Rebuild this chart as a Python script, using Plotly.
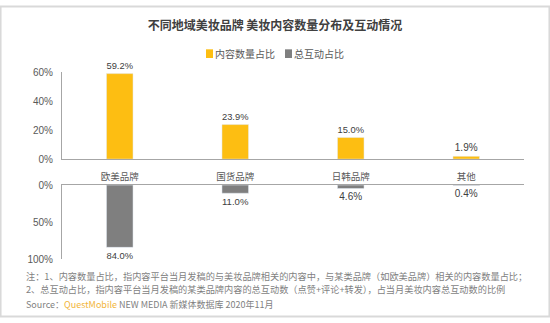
import plotly.graph_objects as go

categories = ["欧美品牌", "国货品牌", "日韩品牌", "其他"]
content_share = [59.2, 23.9, 15.0, 1.9]
interaction_share = [84.0, 11.0, 4.6, 0.4]
series_names = ["内容数量占比", "总互动占比"]
top_ticks = [0, 20, 40, 60]
bottom_ticks = [0, 50, 100]

W, H = 550, 323
def py(p):
    return 1 - p / H
def px(p):
    return p / W

FONT = "Liberation Sans, Arial, Noto Sans CJK SC, sans-serif"
CJK = "Noto Sans CJK SC, Liberation Sans, sans-serif"
YEL = "#FDBE12"
GRY = "#7F7F7F"
AX = "#A6A6A6"

fig = go.Figure()
fig.add_trace(go.Bar(
    x=categories, y=content_share, name=series_names[0],
    marker=dict(color=YEL), width=0.23,
    text=[f"{v:.1f}%" for v in content_share], textposition="outside",
    textfont=dict(size=10, color="#404040", family=FONT),
    cliponaxis=False, xaxis="x", yaxis="y", showlegend=False,
))
# lower panel drawn downward: values plotted as negatives, labelled positive
fig.add_trace(go.Bar(
    x=categories, y=[-v for v in interaction_share], name=series_names[1],
    marker=dict(color=GRY), width=0.23,
    text=[f"{v:.1f}%" for v in interaction_share], textposition="outside",
    textfont=dict(size=10, color="#404040", family=FONT),
    cliponaxis=False, xaxis="x2", yaxis="y2", showlegend=False,
))

xd = [px(62), px(524)]
fig.update_layout(
    width=W, height=H,
    margin=dict(l=0, r=0, t=0, b=0),
    paper_bgcolor="white", plot_bgcolor="rgba(0,0,0,0)",
    showlegend=False,
    title=dict(text="<b>不同地域美妆品牌 美妆内容数量分布及互动情况</b>",
               x=px(275), xanchor="center", y=py(26), yanchor="middle",
               font=dict(size=12, color="#404040", family=CJK)),
    xaxis=dict(domain=xd, anchor="y", showline=True, linecolor=AX, linewidth=1,
               showgrid=False, ticks="", ticklabelstandoff=9,
               tickfont=dict(size=9.5, color="#595959", family=CJK), fixedrange=True),
    yaxis=dict(domain=[py(159), py(69)], range=[0, 60], autorange=False, anchor="x",
               tickvals=top_ticks, ticktext=[f"{t}%" for t in top_ticks],
               showline=True, linecolor=AX, linewidth=1, showgrid=False, zeroline=False,
               ticks="", ticklabelstandoff=6,
               tickfont=dict(size=10, color="#595959", family=FONT)),
    xaxis2=dict(domain=xd, anchor="y2", side="top", showline=True, linecolor=AX, linewidth=1,
                showgrid=False, showticklabels=False, ticks=""),
    yaxis2=dict(domain=[py(263), py(186)], range=[-100, 0], autorange=False, anchor="x2",
                tickvals=[-t for t in bottom_ticks], ticktext=[f"{t}%" for t in bottom_ticks],
                showline=True, linecolor=AX, linewidth=1, showgrid=False, zeroline=False,
                ticks="", ticklabelstandoff=6,
                tickfont=dict(size=10, color="#595959", family=FONT)),
)

# compact legend
leg = [(209.5, YEL, series_names[0]), (288.5, GRY, series_names[1])]
for xc, col, name in leg:
    fig.add_shape(type="rect", xref="paper", yref="paper",
                  x0=px(xc - 3.5), x1=px(xc + 3.5), y0=py(54), y1=py(45),
                  fillcolor=col, line=dict(width=0))
    fig.add_annotation(text=name, xref="paper", yref="paper", x=px(xc + 3.5), y=py(49.5),
                       xanchor="left", yanchor="middle", showarrow=False,
                       font=dict(size=10, color="#595959", family=CJK))

note1 = "注：1、内容数量占比，指内容平台当月发稿的与美妆品牌相关的内容中，与某类品牌（如欧美品牌）相关的内容数量占比；"
note2 = "2、总互动占比，指内容平台当月发稿的某类品牌内容的总互动数（点赞+评论+转发），占当月美妆内容总互动数的比例"
for txt, yy in [(note1, 280), (note2, 294)]:
    fig.add_annotation(text=txt, xref="paper", yref="paper", x=px(25), y=py(yy),
                       xanchor="left", yanchor="middle", align="left", showarrow=False,
                       borderpad=0, font=dict(size=9.2, color="#7F7F7F", family=CJK))
fig.add_annotation(text="Source：<span style='color:#F2B53A'>QuestMobile</span> NEW MEDIA 新媒体数据库 2020年11月",
                   xref="paper", yref="paper", x=px(25), y=py(310),
                   xanchor="left", yanchor="middle", align="left", showarrow=False,
                   borderpad=0, font=dict(size=9, color="#7F7F7F", family=CJK))

fig.add_shape(type="rect", xref="paper", yref="paper", x0=0.001, x1=0.999, y0=0.002, y1=0.998,
              line=dict(color="#D9D9D9", width=2))

fig.write_html("out.html")
